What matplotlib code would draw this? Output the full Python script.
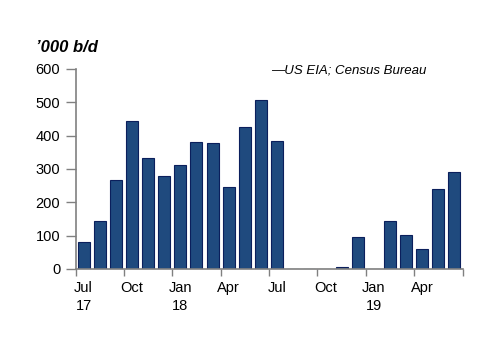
import numpy as np
import matplotlib.pyplot as plt

plt.rcParams['font.family'] = ['Liberation Sans', 'DejaVu Sans']

# monthly values, Jul 2017 - Jun 2019
months = ['Jul 17', 'Aug 17', 'Sep 17', 'Oct 17', 'Nov 17', 'Dec 17',
          'Jan 18', 'Feb 18', 'Mar 18', 'Apr 18', 'May 18', 'Jun 18',
          'Jul 18', 'Aug 18', 'Sep 18', 'Oct 18', 'Nov 18', 'Dec 18',
          'Jan 19', 'Feb 19', 'Mar 19', 'Apr 19', 'May 19', 'Jun 19']
values = [80, 144, 266, 445, 332, 280,
          312, 381, 378, 247, 426, 508,
          383, 0, 0, 0, 6, 96,
          0, 144, 102, 61, 239, 290]
tick_labels = ['Jul\n17', 'Oct', 'Jan\n18', 'Apr', 'Jul', 'Oct', 'Jan\n19', 'Apr']
yticks = [0, 100, 200, 300, 400, 500, 600]

fig = plt.figure(figsize=(5, 3.53), dpi=100)
ax = fig.add_axes([0.151, 0.238, 0.774, 0.567])

x = np.arange(len(values))
ax.bar(x, values, width=0.74, color='#1f4a7e', edgecolor='#0b1f5c', linewidth=0.8)

ax.set_xlim(-0.5, len(values) - 0.5)
ax.set_ylim(0, 600)
ax.set_yticks(yticks)
ax.tick_params(axis='y', direction='out', length=7, width=1, color='#808080',
               labelsize=10.5, pad=4)

# labels centred on first month of each quarter, tick marks at bar boundaries
ax.set_xticks(x[::3])
ax.set_xticklabels(tick_labels, fontsize=10.5, linespacing=1.3)
ax.tick_params(axis='x', length=0, pad=9)
ax.set_xticks(np.arange(-0.5, len(values), 3), minor=True)
ax.tick_params(axis='x', which='minor', direction='out', length=5, width=1, color='#808080')

for s in ['top', 'right']:
    ax.spines[s].set_visible(False)
for s in ['left', 'bottom']:
    ax.spines[s].set_color('#808080')
    ax.spines[s].set_linewidth(1.2)

fig.text(0.072, 0.865, "\u2019000 b/d", fontsize=12, fontweight='bold', fontstyle='italic',
         va='center', ha='left')
fig.text(0.543, 0.80, "\u2014US EIA; Census Bureau", fontsize=9.5, fontstyle='italic',
         va='center', ha='left')

fig.savefig('out.png', dpi=100)
